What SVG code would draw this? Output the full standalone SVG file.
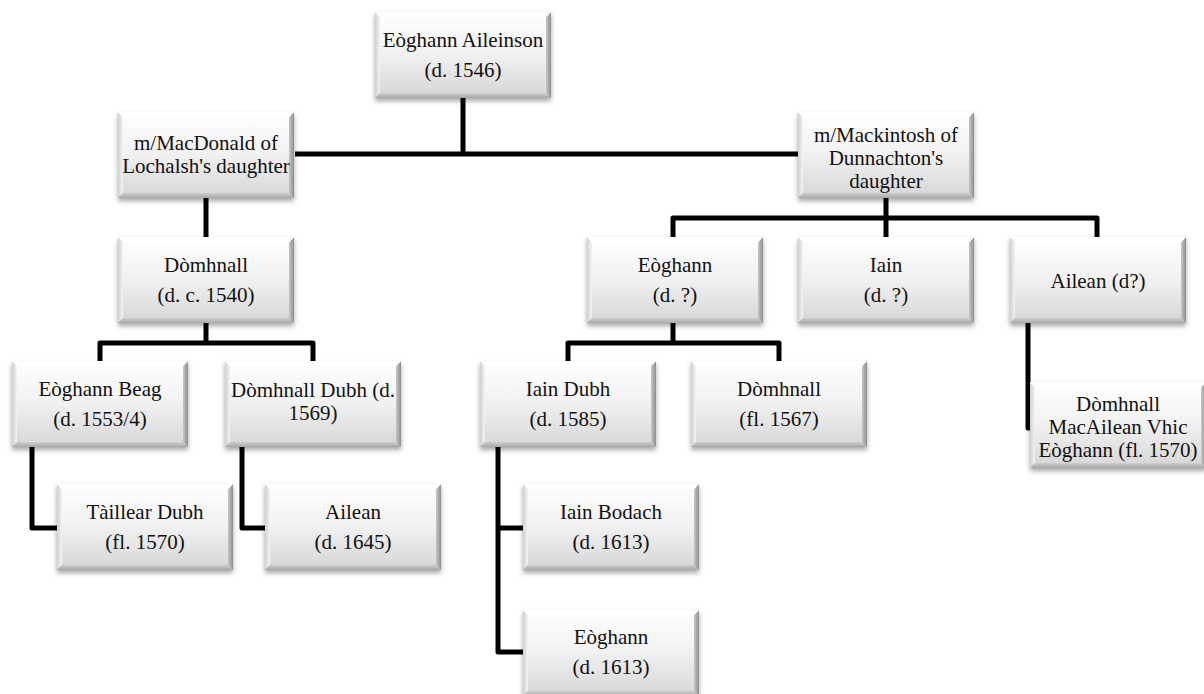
<svg xmlns="http://www.w3.org/2000/svg" xmlns:xlink="http://www.w3.org/1999/xlink" width="1204" height="694" viewBox="0 0 1204 694">
<style>
.t{font-family:"Liberation Serif","Times New Roman",serif;font-size:21px;fill:#111;text-anchor:middle}
.c{fill:none;stroke:#000;stroke-width:5;stroke-linejoin:round;stroke-linecap:butt}
</style>
<defs>
<linearGradient id="gv" x1="0" y1="0" x2="0" y2="1">
<stop offset="0" stop-color="#ffffff"/>
<stop offset="0.5" stop-color="#f1f1f1"/>
<stop offset="1" stop-color="#d6d6d6"/>
</linearGradient>
<linearGradient id="gr" x1="0" y1="0" x2="1" y2="0">
<stop offset="0" stop-color="#c8c8c8"/>
<stop offset="1" stop-color="#8e8e8e"/>
</linearGradient>
<linearGradient id="gl" x1="0" y1="0" x2="1" y2="0">
<stop offset="0" stop-color="#d0d0d0"/>
<stop offset="1" stop-color="#f4f4f4"/>
</linearGradient>
<linearGradient id="gb" x1="0" y1="0" x2="0" y2="1">
<stop offset="0" stop-color="#cfcfcf"/>
<stop offset="1" stop-color="#a8a8a8"/>
</linearGradient>
<filter id="sh" x="-10%" y="-10%" width="120%" height="130%">
<feDropShadow dx="0" dy="3" stdDeviation="2.5" flood-color="#000" flood-opacity="0.35"/>
</filter>
<g id="box">
<rect x="0" y="0" width="176" height="86" fill="url(#gv)" filter="url(#sh)"/>
<polygon points="0,0 5,5 5,81 0,86" fill="url(#gl)"/>
<polygon points="176,0 171,5 171,81 176,86" fill="url(#gr)"/>
<polygon points="0,86 5,81 171,81 176,86" fill="url(#gb)"/>
<polygon points="0,0 176,0 171,5 5,5" fill="#ffffff"/>
</g>
</defs>
<rect width="1204" height="694" fill="#ffffff"/>
<g id="connectors">
<path class="c" d="M463,98 V154"/>
<path class="c" d="M295,154 H798"/>
<path class="c" d="M206,198 V237"/>
<path class="c" d="M886,198 V237"/>
<path class="c" d="M673,237 V218 H1097 V237"/>
<path class="c" d="M206,323 V343"/>
<path class="c" d="M100,361 V343 H313 V361"/>
<path class="c" d="M673,323 V343"/>
<path class="c" d="M568,361 V343 H779 V361"/>
<path class="c" d="M32,447 V528 H57"/>
<path class="c" d="M242,447 V528 H265"/>
<path class="c" d="M498,447 V652 H523"/>
<path class="c" d="M498,528 H523"/>
<path class="c" d="M1028,323 V428 H1030"/>
</g>
<g id="n-eoghann-aileinson"><use xlink:href="#box" x="375" y="12"/><text class="t" x="463" y="47">Eòghann Aileinson</text><text class="t" x="463" y="77">(d. 1546)</text></g>
<g id="n-macdonald"><use xlink:href="#box" x="118" y="112"/><text class="t" x="206" y="150">m/MacDonald of</text><text class="t" x="206" y="173">Lochalsh's daughter</text></g>
<g id="n-mackintosh"><use xlink:href="#box" x="798" y="112"/><text class="t" x="886" y="142">m/Mackintosh of</text><text class="t" x="886" y="165">Dunnachton's</text><text class="t" x="886" y="188">daughter</text></g>
<g id="n-domhnall-1540"><use xlink:href="#box" x="118" y="237"/><text class="t" x="206" y="272">Dòmhnall</text><text class="t" x="206" y="302">(d. c. 1540)</text></g>
<g id="n-eoghann-q"><use xlink:href="#box" x="587" y="237"/><text class="t" x="675" y="272">Eòghann</text><text class="t" x="675" y="302">(d. ?)</text></g>
<g id="n-iain-q"><use xlink:href="#box" x="798" y="237"/><text class="t" x="886" y="272">Iain</text><text class="t" x="886" y="302">(d. ?)</text></g>
<g id="n-ailean-q"><use xlink:href="#box" x="1010" y="237"/><text class="t" x="1098" y="288">Ailean (d?)</text></g>
<g id="n-eoghann-beag"><use xlink:href="#box" x="12" y="361"/><text class="t" x="100" y="396">Eòghann Beag</text><text class="t" x="100" y="426">(d. 1553/4)</text></g>
<g id="n-domhnall-dubh"><use xlink:href="#box" x="225" y="361"/><text class="t" x="313" y="397">Dòmhnall Dubh (d.</text><text class="t" x="313" y="420">1569)</text></g>
<g id="n-iain-dubh"><use xlink:href="#box" x="480" y="361"/><text class="t" x="568" y="396">Iain Dubh</text><text class="t" x="568" y="426">(d. 1585)</text></g>
<g id="n-domhnall-1567"><use xlink:href="#box" x="691" y="361"/><text class="t" x="779" y="396">Dòmhnall</text><text class="t" x="779" y="426">(fl. 1567)</text></g>
<g id="n-taillear-dubh"><use xlink:href="#box" x="57" y="484"/><text class="t" x="145" y="519">Tàillear Dubh</text><text class="t" x="145" y="549">(fl. 1570)</text></g>
<g id="n-ailean-1645"><use xlink:href="#box" x="265" y="484"/><text class="t" x="353" y="519">Ailean</text><text class="t" x="353" y="549">(d. 1645)</text></g>
<g id="n-iain-bodach"><use xlink:href="#box" x="523" y="484"/><text class="t" x="611" y="519">Iain Bodach</text><text class="t" x="611" y="549">(d. 1613)</text></g>
<g id="n-eoghann-1613"><use xlink:href="#box" x="523" y="610"/><text class="t" x="611" y="644">Eòghann</text><text class="t" x="611" y="674">(d. 1613)</text></g>
<g id="n-domhnall-macailean"><use xlink:href="#box" x="1030" y="382"/><text class="t" x="1118" y="411">Dòmhnall</text><text class="t" x="1118" y="434">MacAilean Vhic</text><text class="t" x="1118" y="457">Eòghann (fl. 1570)</text></g>
</svg>
